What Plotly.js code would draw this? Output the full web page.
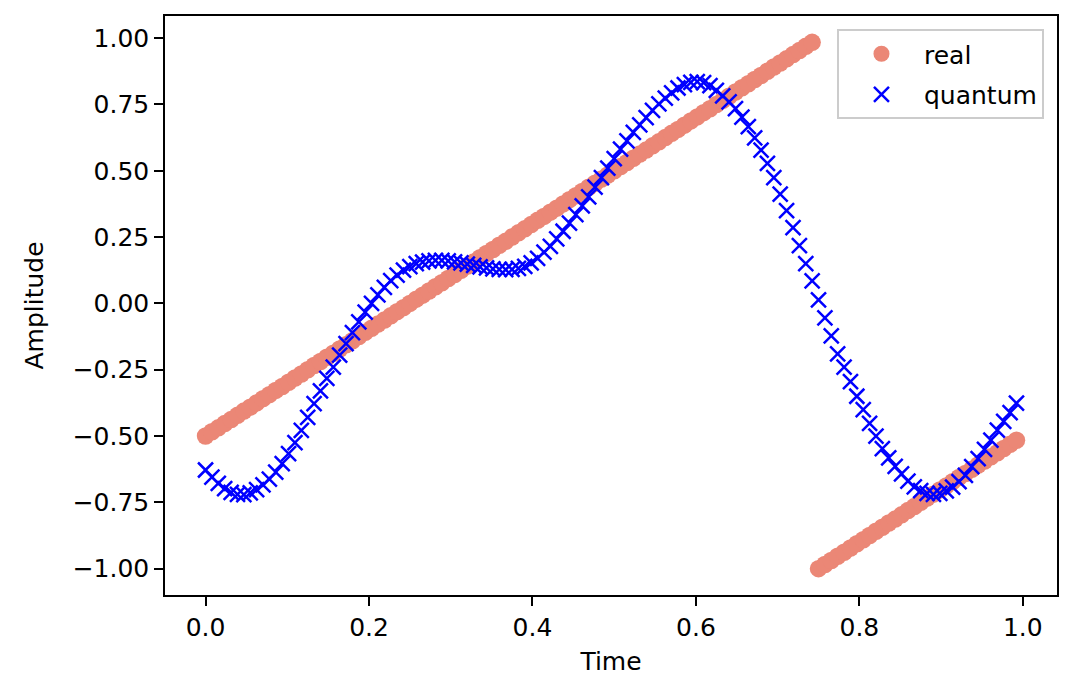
<!DOCTYPE html>
<html>
<head>
<meta charset="utf-8">
<script src="https://cdn.plot.ly/plotly-3.0.1.min.js"></script>
<style>html,body{margin:0;padding:0;background:#fff;}#chart{width:1076px;height:696px;}</style>
</head>
<body>
<div id="chart"></div>
<script>
const time = [
0,0.0078,0.0156,0.0234,0.0313,0.0391,0.0469,0.0547,0.0625,0.0703,0.0781,0.0859,0.0938,0.1016,0.1094,0.1172,
0.125,0.1328,0.1406,0.1484,0.1563,0.1641,0.1719,0.1797,0.1875,0.1953,0.2031,0.2109,0.2188,0.2266,0.2344,0.2422,
0.25,0.2578,0.2656,0.2734,0.2813,0.2891,0.2969,0.3047,0.3125,0.3203,0.3281,0.3359,0.3438,0.3516,0.3594,0.3672,
0.375,0.3828,0.3906,0.3984,0.4063,0.4141,0.4219,0.4297,0.4375,0.4453,0.4531,0.4609,0.4688,0.4766,0.4844,0.4922,
0.5,0.5078,0.5156,0.5234,0.5313,0.5391,0.5469,0.5547,0.5625,0.5703,0.5781,0.5859,0.5938,0.6016,0.6094,0.6172,
0.625,0.6328,0.6406,0.6484,0.6563,0.6641,0.6719,0.6797,0.6875,0.6953,0.7031,0.7109,0.7188,0.7266,0.7344,0.7422,
0.75,0.7578,0.7656,0.7734,0.7813,0.7891,0.7969,0.8047,0.8125,0.8203,0.8281,0.8359,0.8438,0.8516,0.8594,0.8672,
0.875,0.8828,0.8906,0.8984,0.9063,0.9141,0.9219,0.9297,0.9375,0.9453,0.9531,0.9609,0.9688,0.9766,0.9844,0.9922
];
const realValues = [
-0.5,-0.484,-0.469,-0.453,-0.438,-0.422,-0.406,-0.391,-0.375,-0.359,-0.344,-0.328,-0.313,-0.297,-0.281,-0.266,
-0.25,-0.234,-0.219,-0.203,-0.188,-0.172,-0.156,-0.141,-0.125,-0.109,-0.094,-0.078,-0.063,-0.047,-0.031,-0.016,
0,0.016,0.031,0.047,0.063,0.078,0.094,0.109,0.125,0.141,0.156,0.172,0.188,0.203,0.219,0.234,
0.25,0.266,0.281,0.297,0.313,0.328,0.344,0.359,0.375,0.391,0.406,0.422,0.438,0.453,0.469,0.484,
0.5,0.516,0.531,0.547,0.563,0.578,0.594,0.609,0.625,0.641,0.656,0.672,0.688,0.703,0.719,0.734,
0.75,0.766,0.781,0.797,0.813,0.828,0.844,0.859,0.875,0.891,0.906,0.922,0.938,0.953,0.969,0.984,
-1,-0.984,-0.969,-0.953,-0.938,-0.922,-0.906,-0.891,-0.875,-0.859,-0.844,-0.828,-0.813,-0.797,-0.781,-0.766,
-0.75,-0.734,-0.719,-0.703,-0.688,-0.672,-0.656,-0.641,-0.625,-0.609,-0.594,-0.578,-0.563,-0.547,-0.531,-0.516
];
const quantumValues = [
-0.628,-0.655,-0.678,-0.698,-0.712,-0.720,-0.721,-0.714,-0.702,-0.684,-0.662,-0.636,-0.604,-0.566,-0.525,-0.479,
-0.430,-0.378,-0.330,-0.283,-0.240,-0.195,-0.152,-0.110,-0.070,-0.033,0.000,0.032,0.060,0.086,0.107,0.125,
0.139,0.150,0.156,0.160,0.162,0.162,0.160,0.157,0.153,0.148,0.143,0.138,0.134,0.130,0.128,0.127,
0.128,0.132,0.140,0.153,0.170,0.193,0.215,0.243,0.272,0.303,0.335,0.368,0.402,0.438,0.474,0.510,
0.546,0.582,0.613,0.645,0.673,0.700,0.728,0.752,0.774,0.794,0.812,0.825,0.833,0.836,0.832,0.821,
0.803,0.782,0.760,0.734,0.702,0.666,0.624,0.578,0.528,0.474,0.412,0.350,0.286,0.218,0.150,0.085,
0.013,-0.055,-0.122,-0.190,-0.240,-0.295,-0.350,-0.400,-0.452,-0.500,-0.547,-0.582,-0.614,-0.643,-0.670,-0.692,
-0.706,-0.716,-0.720,-0.716,-0.707,-0.693,-0.672,-0.648,-0.615,-0.585,-0.550,-0.515,-0.478,-0.445,-0.412,-0.376
];
const seriesNames = ['real', 'quantum'];
const yTicks = [-1.0, -0.75, -0.5, -0.25, 0.0, 0.25, 0.5, 0.75, 1.0];
const xTicks = [0.0, 0.2, 0.4, 0.6, 0.8, 1.0];

const FONT = 'DejaVu Sans, Liberation Sans, sans-serif';
const FS = 25;
const traces = [
  {
    x: time, y: realValues, name: seriesNames[0], type: 'scatter', mode: 'markers',
    marker: {symbol: 'circle', size: 17.5, color: '#EB8776', line: {width: 0}},
    legendgroup: 'a'
  },
  {
    x: time, y: quantumValues, name: seriesNames[1], type: 'scatter', mode: 'markers',
    marker: {symbol: 'x-thin', size: 15, color: '#0000FF', line: {width: 2.5, color: '#0000FF'}},
    legendgroup: 'b'
  }
];
const axisCommon = {
  showline: true, mirror: true, linecolor: '#000', linewidth: 2,
  ticks: 'outside', ticklen: 8.75, tickwidth: 2, tickcolor: '#000',
  showgrid: false, zeroline: false,
  tickfont: {family: FONT, size: FS, color: '#000'}
};
const layout = {
  width: 1076, height: 696,
  margin: {l: 165, r: 19, t: 16, b: 101, pad: 0},
  paper_bgcolor: '#fff', plot_bgcolor: '#fff',
  font: {family: FONT, size: FS, color: '#000'},
  showlegend: true,
  xaxis: Object.assign({}, axisCommon, {
    range: [-0.0496, 1.0418], tickmode: 'array', tickvals: xTicks,
    ticktext: xTicks.map(v => v.toFixed(1)),
    title: {text: 'Time', font: {family: FONT, size: FS, color: '#000'}, standoff: 12}
  }),
  yaxis: Object.assign({}, axisCommon, {
    range: [-1.0992, 1.0834], tickmode: 'array', tickvals: yTicks,
    ticktext: yTicks.map(v => (v < 0 ? '\u2212' : '') + Math.abs(v).toFixed(2)),
    title: {text: 'Amplitude', font: {family: FONT, size: FS, color: '#000'}, standoff: 22}
  }),
  legend: {
    x: 0.9854, y: 0.9775, xanchor: 'right', yanchor: 'top',
    bgcolor: 'rgba(255,255,255,0.8)', bordercolor: '#cccccc', borderwidth: 2,
    font: {family: FONT, size: FS, color: '#000'},
    itemwidth: 75, tracegroupgap: 5, traceorder: 'grouped'
  }
};
Plotly.newPlot('chart', traces, layout, {staticPlot: true, displayModeBar: false});
</script>
</body>
</html>
